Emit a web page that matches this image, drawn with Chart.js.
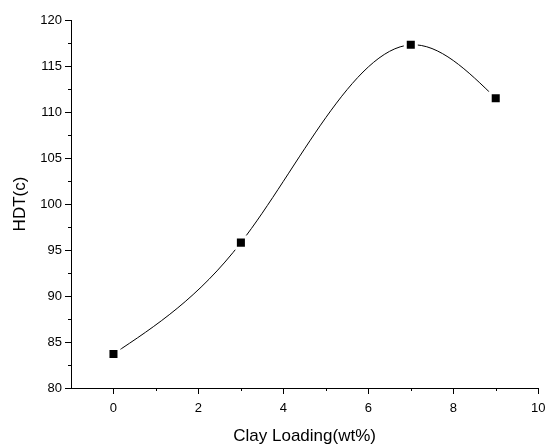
<!DOCTYPE html>
<html lang="en">
<head>
  <meta charset="UTF-8" />
  <title>HDT vs Clay Loading</title>
  <script src="https://cdn.jsdelivr.net/npm/chart.js"></script>
  <style>
    html, body { margin: 0; padding: 0; background: #fff; }
    #wrap { width: 549px; height: 448px; }
  </style>
</head>
<body>
<div id="wrap"><canvas id="chart" width="549" height="448"></canvas></div>
<script>
  // data
  const clayLoading = [0, 3, 7, 9];
  const hdtValues = [83.7, 95.8, 117.3, 111.5];
  const xMajorTicks = [0, 2, 4, 6, 8, 10];
  const xMinorTicks = [1, 3, 5, 7, 9];
  const yMajorTicks = [80, 85, 90, 95, 100, 105, 110, 115, 120];
  const yMinorTicks = [82.5, 87.5, 92.5, 97.5, 102.5, 107.5, 112.5, 117.5];

  const points = clayLoading.map((x, i) => ({ x: x, y: hdtValues[i] }));
  const font = "'Liberation Sans', Arial, sans-serif";

  // the original uses a natural cubic spline through the points;
  // set the bezier control points of the line's own point elements to match it
  const naturalSpline = {
    id: 'naturalSpline',
    beforeDatasetsDraw(chart) {
      const meta = chart.getDatasetMeta(0);
      const line = meta.dataset;
      line.updateControlPoints(chart.chartArea, 'x');
      const pts = meta.data;
      const n = pts.length;
      if (n < 3) return;
      const X = pts.map(p => p.x), Y = pts.map(p => p.y);
      const h = [];
      for (let i = 0; i < n - 1; i++) h.push(X[i + 1] - X[i]);
      // second derivatives, M[0] = M[n-1] = 0
      const a = [], b = [], c = [], d = [];
      for (let i = 1; i < n - 1; i++) {
        a.push(h[i - 1]);
        b.push(2 * (h[i - 1] + h[i]));
        c.push(h[i]);
        d.push(6 * ((Y[i + 1] - Y[i]) / h[i] - (Y[i] - Y[i - 1]) / h[i - 1]));
      }
      const m = b.length;
      for (let i = 1; i < m; i++) {
        const w = a[i] / b[i - 1];
        b[i] -= w * c[i - 1];
        d[i] -= w * d[i - 1];
      }
      const inner = new Array(m);
      inner[m - 1] = d[m - 1] / b[m - 1];
      for (let i = m - 2; i >= 0; i--) inner[i] = (d[i] - c[i] * inner[i + 1]) / b[i];
      const M = [0, ...inner, 0];
      // slopes at each point
      const s = X.map((_, i) => {
        if (i < n - 1) return (Y[i + 1] - Y[i]) / h[i] - h[i] * (2 * M[i] + M[i + 1]) / 6;
        return (Y[i] - Y[i - 1]) / h[i - 1] + h[i - 1] * (M[i - 1] + 2 * M[i]) / 6;
      });
      pts.forEach((p, i) => {
        const hb = i > 0 ? h[i - 1] : 0;
        const ha = i < n - 1 ? h[i] : 0;
        p.cp1x = X[i] - hb / 3;
        p.cp1y = Y[i] - s[i] * hb / 3;
        p.cp2x = X[i] + ha / 3;
        p.cp2y = Y[i] + s[i] * ha / 3;
      });
      line._pointsUpdated = true;
      line._path = undefined;
    }
  };

  // short minor ticks, outside the axes
  const minorTicks = {
    id: 'minorTicks',
    afterDraw(chart) {
      const ctx = chart.ctx;
      const xs = chart.scales.x, ys = chart.scales.y;
      const area = chart.chartArea;
      ctx.save();
      ctx.strokeStyle = '#000';
      ctx.lineWidth = 1;
      ctx.beginPath();
      xMinorTicks.forEach(v => {
        const px = Math.round(xs.getPixelForValue(v)) + 0.5;
        ctx.moveTo(px, area.bottom);
        ctx.lineTo(px, area.bottom + 3);
      });
      yMinorTicks.forEach(v => {
        const py = Math.round(ys.getPixelForValue(v)) + 0.5;
        ctx.moveTo(area.left, py);
        ctx.lineTo(area.left - 3, py);
      });
      ctx.stroke();
      ctx.restore();
    }
  };

  new Chart(document.getElementById('chart'), {
    type: 'scatter',
    data: {
      datasets: [{
        data: points,
        showLine: true,
        tension: 0.4,
        borderColor: '#000',
        borderWidth: 1,
        pointStyle: 'rect',
        pointRadius: 7.8,
        pointBackgroundColor: '#000',
        pointBorderColor: '#fff',
        pointBorderWidth: 3
      }]
    },
    options: {
      responsive: false,
      animation: false,
      layout: { padding: { left: 0, right: 9, top: 20, bottom: 0 } },
      plugins: { legend: { display: false }, tooltip: { enabled: false } },
      scales: {
        x: {
          type: 'linear',
          min: -1,
          max: 10,
          afterBuildTicks: s => { s.ticks = xMajorTicks.map(v => ({ value: v })); },
          afterFit: s => { s.height = 60; s.paddingLeft = 0; s.paddingRight = 0; },
          grid: { drawOnChartArea: false, drawTicks: true, tickLength: 6, color: '#000' },
          border: { display: true, color: '#000', width: 1 },
          ticks: { color: '#000', font: { family: font, size: 13 }, padding: 7, maxRotation: 0 },
          title: { display: true, text: 'Clay Loading(wt%)', color: '#000', font: { family: font, size: 17 }, padding: { top: 0, bottom: 1 } }
        },
        y: {
          min: 80,
          max: 120,
          afterBuildTicks: s => { s.ticks = yMajorTicks.map(v => ({ value: v })); },
          afterFit: s => { s.width = 71; s.paddingTop = 0; s.paddingBottom = 0; },
          grid: { drawOnChartArea: false, drawTicks: true, tickLength: 6, color: '#000' },
          border: { display: true, color: '#000', width: 1 },
          ticks: { color: '#000', font: { family: font, size: 13 }, padding: 3 },
          title: { display: true, text: 'HDT(c)', color: '#000', font: { family: font, size: 17 }, padding: { top: 10, bottom: 0 } }
        }
      }
    },
    plugins: [naturalSpline, minorTicks]
  });
</script>
</body>
</html>
